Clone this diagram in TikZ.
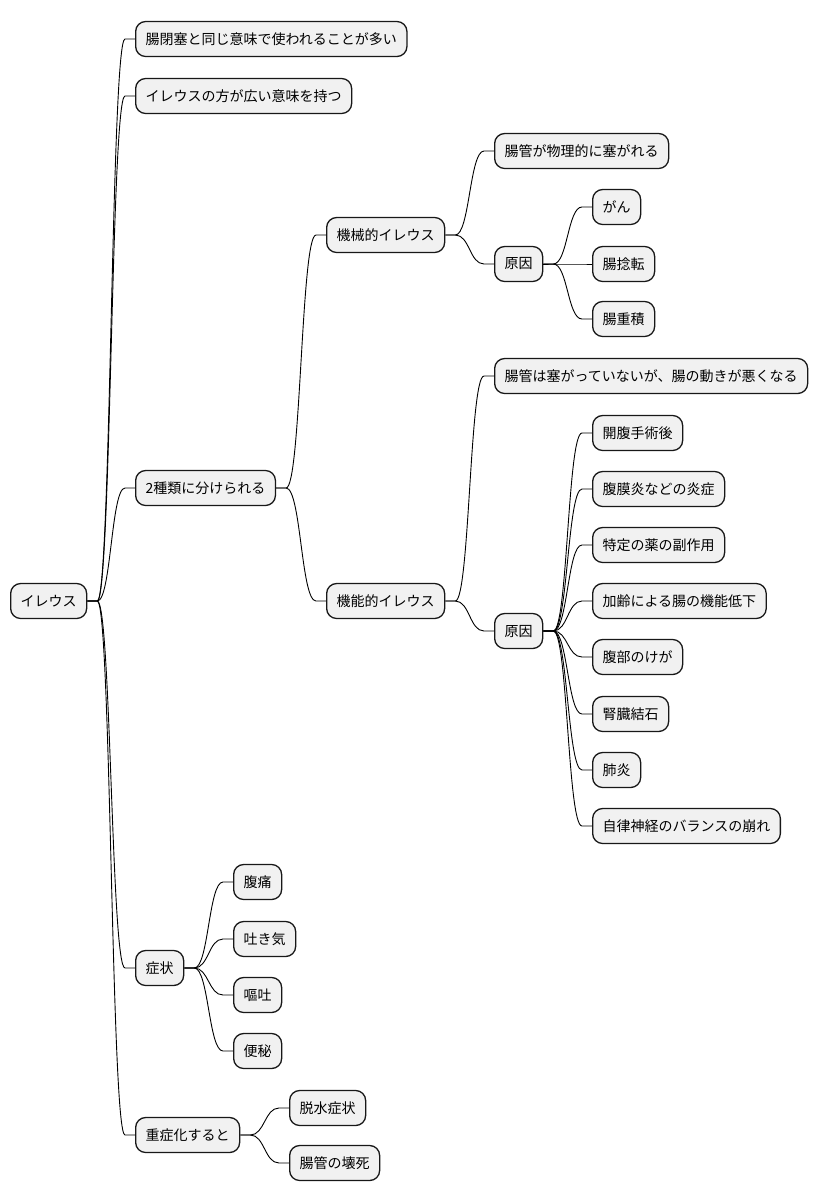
\documentclass[tikz,border=0pt]{standalone}
\usepackage{fontspec}
\setmainfont{Noto Sans CJK JP}
\usetikzlibrary{calc}
\definecolor{boxfill}{HTML}{F1F1F1}
\definecolor{boxline}{HTML}{181818}
\tikzset{
  mmbox/.style={draw=boxline, fill=boxfill, line width=1.3pt, rounded corners=10pt,
    anchor=west, inner xsep=10pt, inner ysep=0pt, minimum height=35pt,
    font=\fontsize{14pt}{16pt}\selectfont, text=black},
  mmline/.style={draw=black, line width=0.9pt}
}
\newcommand{\mmconn}[2]{%
  \draw[mmline] let \p1=(#1.east), \p2=(#2.west), \n1={(\x1+\x2)/2} in
    (\p1) -- (\x1+10pt,\y1) .. controls (\n1,\y1) and (\n1,\y2) .. (\x2-10pt,\y2) -- (\p2);}
\begin{document}
\begin{tikzpicture}[x=1pt,y=-1pt]
\useasboundingbox (0,0) rectangle (819,1203);
% root
\node[mmbox] (root) at (10,601) {イレウス};
% level 1
\node[mmbox] (a1) at (135,39) {腸閉塞と同じ意味で使われることが多い};
\node[mmbox] (a2) at (135,96) {イレウスの方が広い意味を持つ};
\node[mmbox] (a3) at (135,488) {2種類に分けられる};
\node[mmbox] (a4) at (135,968) {症状};
\node[mmbox] (a5) at (135,1135) {重症化すると};
% level 2
\node[mmbox] (b1) at (326,235) {機械的イレウス};
\node[mmbox] (b2) at (326,601) {機能的イレウス};
% level 3
\node[mmbox] (c1) at (494,151) {腸管が物理的に塞がれる};
\node[mmbox] (c2) at (494,264) {原因};
\node[mmbox] (c3) at (494,376) {腸管は塞がっていないが、腸の動きが悪くなる};
\node[mmbox] (c4) at (494,631) {原因};
% level 4 (mechanical causes)
\node[mmbox] (d1) at (592,207) {がん};
\node[mmbox] (d2) at (592,264) {腸捻転};
\node[mmbox] (d3) at (592,319) {腸重積};
% level 4 (functional causes)
\node[mmbox] (e1) at (592,433) {開腹手術後};
\node[mmbox] (e2) at (592,489) {腹膜炎などの炎症};
\node[mmbox] (e3) at (592,545) {特定の薬の副作用};
\node[mmbox] (e4) at (592,601) {加齢による腸の機能低下};
\node[mmbox] (e5) at (592,657) {腹部のけが};
\node[mmbox] (e6) at (592,714) {腎臓結石};
\node[mmbox] (e7) at (592,770) {肺炎};
\node[mmbox] (e8) at (592,826) {自律神経のバランスの崩れ};
% symptoms
\node[mmbox] (f1) at (233,882) {腹痛};
\node[mmbox] (f2) at (233,939) {吐き気};
\node[mmbox] (f3) at (233,995) {嘔吐};
\node[mmbox] (f4) at (233,1051) {便秘};
% severe
\node[mmbox] (g1) at (289,1108) {脱水症状};
\node[mmbox] (g2) at (289,1163) {腸管の壊死};
% connectors
\mmconn{root}{a1}
\mmconn{root}{a2}
\mmconn{root}{a3}
\mmconn{root}{a4}
\mmconn{root}{a5}
\mmconn{a3}{b1}
\mmconn{a3}{b2}
\mmconn{b1}{c1}
\mmconn{b1}{c2}
\mmconn{c2}{d1}
\mmconn{c2}{d2}
\mmconn{c2}{d3}
\mmconn{b2}{c3}
\mmconn{b2}{c4}
\mmconn{c4}{e1}
\mmconn{c4}{e2}
\mmconn{c4}{e3}
\mmconn{c4}{e4}
\mmconn{c4}{e5}
\mmconn{c4}{e6}
\mmconn{c4}{e7}
\mmconn{c4}{e8}
\mmconn{a4}{f1}
\mmconn{a4}{f2}
\mmconn{a4}{f3}
\mmconn{a4}{f4}
\mmconn{a5}{g1}
\mmconn{a5}{g2}
\end{tikzpicture}
\end{document}
